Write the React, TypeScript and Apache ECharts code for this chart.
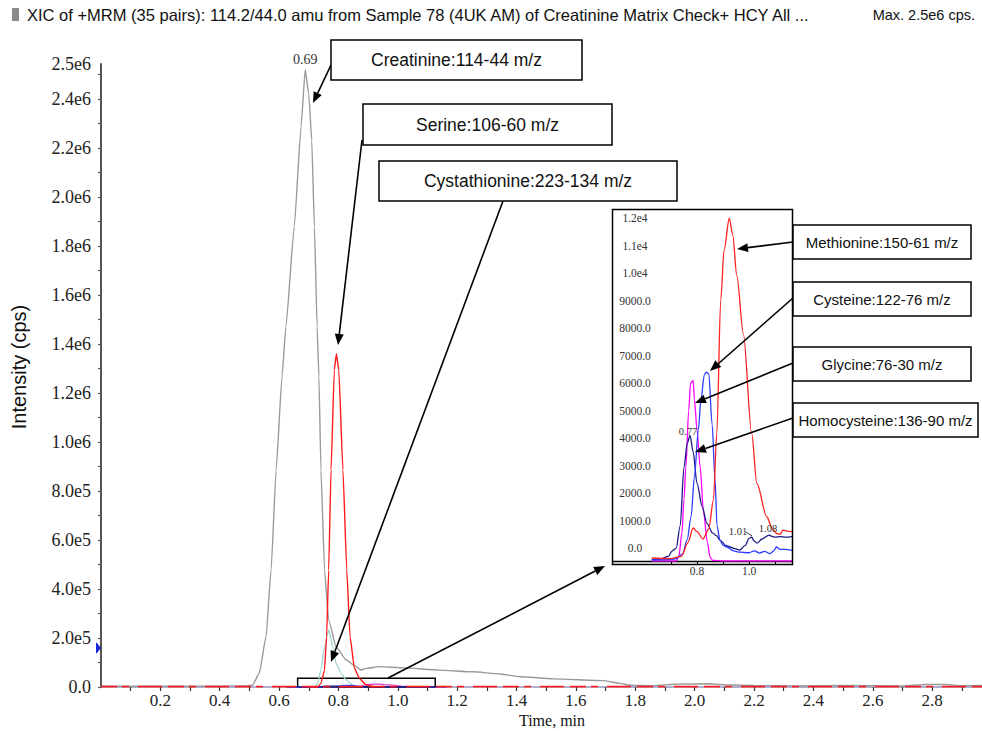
import React, { useEffect, useRef } from "react";
import * as echarts from "echarts";

// ---------- Main chromatogram (time in min, intensity in cps) ----------
const creatinineT = [0, 0.30, 0.49, 0.511, 0.533, 0.556, 0.573, 0.590, 0.610, 0.623, 0.651, 0.674, 0.688, 0.700, 0.710, 0.719, 0.728, 0.734, 0.741, 0.753, 0.767, 0.792, 0.826, 0.860, 0.876, 0.893, 0.938, 1.02, 1.14, 1.253, 1.343, 1.411, 1.523, 1.692, 1.748, 1.782, 1.85, 1.95, 2.05, 2.12, 2.2, 2.35, 2.5, 2.7, 2.78, 2.85, 2.9, 2.968];
const creatinineV = [3000, 3000, 4000, 8000, 56000, 205000, 478000, 886000, 1270000, 1471000, 1878000, 2287000, 2520000, 2420000, 2230000, 1878000, 1471000, 1270000, 886000, 478000, 273000, 164000, 110000, 83000, 69000, 76000, 83000, 78000, 69000, 62000, 53000, 42000, 33000, 26000, 15000, 7000, 5000, 12000, 13000, 8000, 6000, 4000, 6000, 4000, 10000, 10000, 5000, 6000];

const serineT = [0.70, 0.73, 0.741, 0.753, 0.760, 0.767, 0.775, 0.786, 0.793, 0.801, 0.815, 0.828, 0.839, 0.854, 0.871, 0.893, 0.92];
const serineV = [0, 0, 15000, 69000, 205000, 478000, 886000, 1294000, 1360000, 1294000, 886000, 478000, 205000, 76000, 35000, 8000, 0];

const cystaT = [0.70, 0.72, 0.730, 0.741, 0.753, 0.767, 0.781, 0.792, 0.809, 0.826, 0.848, 0.86];
const cystaV = [0, 0, 15000, 69000, 164000, 233000, 164000, 97000, 56000, 28000, 8000, 0];

const noiseT = [0, 2.968];
const noiseV = [1500, 1500];

const zoomT = [0.6625, 1.126];
const zoomV = [0, 35500];

const creatininePeakT = 0.688;
const creatininePeakV = 2520000;

// ---------- Inset (counts) ----------
const metT = [0.626, 0.70, 0.74, 0.765, 0.785, 0.80, 0.823, 0.845, 0.863, 0.876, 0.891, 0.904, 0.924, 0.937, 0.953, 0.978, 1.01, 1.03, 1.068, 1.09, 1.106, 1.12, 1.13, 1.145, 1.165];
const metV = [-360, -380, -300, 200, 730, 600, 330, 700, 1750, 4170, 9020, 10850, 12000, 11400, 9900, 7800, 4170, 2350, 1140, 700, 530, 500, 650, 620, 600];

const cysT = [0.626, 0.70, 0.72, 0.745, 0.762, 0.777, 0.79, 0.805, 0.815, 0.828, 0.835, 0.845, 0.858, 0.869, 0.877, 0.888, 0.90, 0.915, 0.94, 0.965, 1.0, 1.02, 1.04, 1.06, 1.08, 1.095, 1.105, 1.12, 1.14, 1.165];
const cysV = [-430, -420, -380, -200, 300, 1130, 2600, 4300, 5400, 6300, 6400, 6350, 4500, 2500, 800, 290, 100, 40, -100, -150, -170, -100, -180, -120, -200, -100, 40, -50, -50, -80];

const glyT = [0.626, 0.72, 0.73, 0.742, 0.75, 0.757, 0.768, 0.775, 0.785, 0.79, 0.80, 0.812, 0.825, 0.84, 0.85, 0.86, 0.9, 1.165];
const glyV = [-470, -470, -300, 550, 1800, 2950, 5000, 6000, 6100, 5400, 4300, 2950, 1300, 200, -330, -450, -470, -470];

const hcyT = [0.626, 0.66, 0.69, 0.705, 0.72, 0.735, 0.75, 0.762, 0.773, 0.785, 0.80, 0.82, 0.838, 0.86, 0.875, 0.888, 0.91, 0.927, 0.945, 0.965, 0.985, 1.0, 1.01, 1.02, 1.03, 1.05, 1.077, 1.09, 1.1, 1.12, 1.14, 1.165];
const hcyV = [-420, -400, -300, -100, 0, 800, 2950, 3800, 4100, 3500, 2350, 1500, 900, 550, 450, 290, 100, 40, -20, -70, 100, 350, 400, 250, 180, 330, 470, 420, 400, 420, 400, 420];

// ---------- Ticks ----------
const mainXTicks = [0.1, 0.2, 0.3, 0.4, 0.5, 0.6, 0.7, 0.8, 0.9, 1.0, 1.1, 1.2, 1.3, 1.4, 1.5, 1.6, 1.7, 1.8, 1.9, 2.0, 2.1, 2.2, 2.3, 2.4, 2.5, 2.6, 2.7, 2.8, 2.9];
const mainXLabels = [0.2, 0.4, 0.6, 0.8, 1.0, 1.2, 1.4, 1.6, 1.8, 2.0, 2.2, 2.4, 2.6, 2.8];
const mainYTicks = [0, 1e5, 2e5, 3e5, 4e5, 5e5, 6e5, 7e5, 8e5, 9e5, 1e6, 1.1e6, 1.2e6, 1.3e6, 1.4e6, 1.5e6, 1.6e6, 1.7e6, 1.8e6, 1.9e6, 2e6, 2.1e6, 2.2e6, 2.3e6, 2.4e6, 2.5e6];
const mainYLabels = [0, 2e5, 4e5, 6e5, 8e5, 1e6, 1.2e6, 1.4e6, 1.6e6, 1.8e6, 2e6, 2.2e6, 2.4e6, 2.543e6];
const mainYMax = 2.543e6;
const insetXTicks = [0.7, 0.8, 0.9, 1.0, 1.1];
const insetXLabels = [0.8, 1.0];
const insetYLabels = [0, 1000, 2000, 3000, 4000, 5000, 6000, 7000, 8000, 9000, 10000, 11000, 12000];

const zip = (t: number[], v: number[]) => t.map((x, i) => [x, v[i]]);

const SERIF = "'Liberation Serif', 'Times New Roman', serif";
const SANS = "'Liberation Sans', Arial, sans-serif";

function arrow(x1: number, y1: number, x2: number, y2: number) {
  const head = 11, w = 4.5;
  const dx = x2 - x1, dy = y2 - y1;
  const len = Math.hypot(dx, dy);
  const ux = dx / len, uy = dy / len;
  const bx = x2 - ux * head, by = y2 - uy * head;
  const px = -uy, py = ux;
  return [
    { type: "line", z: 50, shape: { x1, y1, x2: bx, y2: by }, style: { stroke: "#000", lineWidth: 1.6 } },
    { type: "polygon", z: 50, shape: { points: [[x2, y2], [bx + px * w, by + py * w], [bx - px * w, by - py * w]] }, style: { fill: "#000" } },
  ];
}

function box(x: number, y: number, w: number, h: number, text: string, fs: number) {
  return [
    { type: "rect", z: 60, shape: { x, y, width: w, height: h }, style: { fill: "#fff", stroke: "#000", lineWidth: 1.5 } },
    {
      type: "text", z: 61, x: x + w / 2, y: y + h / 2,
      style: { text, fill: "#111", font: `${fs}px ${SANS}`, textAlign: "center", textVerticalAlign: "middle", align: "center", verticalAlign: "middle" },
    },
  ];
}

function label(x: number, y: number, text: string, font: string, fill = "#111", align = "left", rotation = 0) {
  return {
    type: "text", z: 70, x, y, rotation,
    style: { text, fill, font, textAlign: align, textVerticalAlign: "middle", align, verticalAlign: "middle" },
  };
}

export default function App() {
  const ref = useRef<HTMLDivElement>(null);

  useEffect(() => {
    document.body.style.margin = "0";
    const chart = echarts.init(ref.current!, null, { renderer: "svg" });

    const lineBase = (name: string, data: number[][], color: string, xi: number, width = 1.3, z = 2, smooth = 0) => ({
      name, type: "line", xAxisIndex: xi, yAxisIndex: xi, data, showSymbol: false, symbol: "none",
      smooth, smoothMonotone: "x",
      lineStyle: { color, width }, itemStyle: { color }, z, silent: true,
    });

    const graphic: any[] = [
      { type: "rect", shape: { x: 12, y: 8, width: 7, height: 13 }, style: { fill: "#8a8a8a" } },
      label(27, 15, "XIC of +MRM (35 pairs): 114.2/44.0 amu from Sample 78 (4UK AM) of Creatinine Matrix Check+ HCY All ...", `16.5px ${SANS}`),
      label(975, 15, "Max. 2.5e6 cps.", `14.5px ${SANS}`, "#111", "right"),
      label(19, 367, "Intensity (cps)", `20px ${SANS}`, "#111", "center", Math.PI / 2),
      label(552, 720, "Time, min", `16px ${SERIF}`, "#111", "center"),
      { type: "polygon", z: 40, shape: { points: [[96, 642], [101, 648], [96, 654]] }, style: { fill: "#1428d8" } },
      // inset frame
      { type: "rect", z: 30, shape: { x: 612.5, y: 209.5, width: 180, height: 355 }, style: { fill: "none", stroke: "#000", lineWidth: 1.5 } },
      label(688, 431, "0.77", `10.5px ${SERIF}`, "#333", "center"),
      label(738, 531, "1.01", `10.5px ${SERIF}`, "#333", "center"),
      label(768, 528, "1.08", `10.5px ${SERIF}`, "#333", "center"),
      { type: "line", z: 70, shape: { x1: 746, y1: 532, x2: 752, y2: 536 }, style: { stroke: "#333", lineWidth: 1 } },
      ...box(331, 40, 251, 40, "Creatinine:114-44 m/z", 17.5),
      ...box(363, 104, 249, 41, "Serine:106-60 m/z", 17.5),
      ...box(379, 161, 298, 40, "Cystathionine:223-134 m/z", 17.5),
      ...arrow(331, 65, 313, 103),
      ...arrow(362, 140, 338, 345),
      ...arrow(503, 201, 331, 662),
      ...arrow(388, 678, 605, 566),
      ...box(793, 225, 178, 34, "Methionine:150-61 m/z", 15),
      ...box(793, 282, 178, 34, "Cysteine:122-76 m/z", 15),
      ...box(793, 347, 178, 34, "Glycine:76-30 m/z", 15),
      ...box(793, 403, 185, 34, "Homocysteine:136-90 m/z", 15),
      ...arrow(793, 242, 737, 249),
      ...arrow(793, 298, 710, 371),
      ...arrow(793, 363, 695, 403),
      ...arrow(793, 418, 695, 452),
    ];

    const fmtMainY = (v: number) => {
      if (v === 0) return "0.0";
      if (v >= 1e6) return (v / 1e6).toFixed(1) + "e6";
      return (v / 1e5).toFixed(1) + "e5";
    };

    chart.setOption({
      animation: false,
      backgroundColor: "#fff",
      grid: [
        { left: 101, right: 0, top: 64, bottom: 44 },
        { left: 613, top: 210, width: 179, height: 351 },
      ],
      xAxis: [
        {
          type: "value", gridIndex: 0, min: 0, max: 2.968,
          axisLine: { show: true, onZero: false, lineStyle: { color: "#9a92bd", width: 1.5 } },
          axisTick: { show: true, customValues: mainXTicks, length: 4, lineStyle: { color: "#333", width: 1.2 } },
          axisLabel: { customValues: mainXLabels, formatter: (v: number) => v.toFixed(1), fontFamily: SERIF, fontSize: 17, color: "#222", margin: 5 },
          splitLine: { show: false },
        },
        {
          type: "value", gridIndex: 1, min: 0.477, max: 1.165,
          axisLine: { show: true, onZero: false, lineStyle: { color: "#000", width: 1.3 } },
          axisTick: { show: true, customValues: insetXTicks, length: 3, lineStyle: { color: "#000" } },
          axisLabel: { customValues: insetXLabels, formatter: (v: number) => v.toFixed(1), fontFamily: SERIF, fontSize: 11.5, color: "#333", margin: 4 },
          splitLine: { show: false },
        },
      ],
      yAxis: [
        {
          type: "value", gridIndex: 0, min: 0, max: mainYMax,
          axisLine: { show: true, onZero: false, lineStyle: { color: "#555", width: 2 } },
          axisTick: { show: true, customValues: mainYTicks, length: 3, lineStyle: { color: "#555", width: 1.2 } },
          axisLabel: { customValues: mainYLabels, formatter: fmtMainY, fontFamily: SERIF, fontSize: 18, color: "#222", margin: 10 },
          splitLine: { show: false },
        },
        {
          type: "value", gridIndex: 1, min: -470, max: 12300,
          axisLine: { show: false, onZero: false }, axisTick: { show: false }, splitLine: { show: false },
          axisLabel: {
            customValues: insetYLabels, inside: true, align: "center", margin: 22,
            formatter: (v: number) => (v >= 10000 ? (v / 1e4).toFixed(1) + "e4" : v.toFixed(1)),
            fontFamily: SERIF, fontSize: 11.5, color: "#333",
          },
        },
      ],
      series: [
        lineBase("Creatinine", zip(creatinineT, creatinineV), "#9a9a9a", 0, 1.4, 2, 0.15),
        {
          ...lineBase("Creatinine peak", [[creatininePeakT, creatininePeakV]], "#9a9a9a", 0, 0, 1),
          lineStyle: { width: 0 },
          markPoint: {
            symbol: "circle", symbolSize: 1, itemStyle: { color: "rgba(0,0,0,0)" },
            label: { show: true, position: "top", distance: 3, formatter: "0.69", color: "#333", fontFamily: SERIF, fontSize: 14 },
            data: [{ coord: [creatininePeakT, creatininePeakV] }],
          },
        },
        lineBase("Cystathionine", zip(cystaT, cystaV), "#9ed6d2", 0, 1.3, 3, 0.15),
        lineBase("Methionine (main)", zip(metT, metV), "#d23cd2", 0, 1.2, 3),
        lineBase("Cysteine (main)", zip(cysT, cysV), "#2040ff", 0, 1.2, 3),
        lineBase("Homocysteine (main)", zip(hcyT, hcyV), "#1a1a80", 0, 1.2, 3),
        {
          ...lineBase("Baseline", zip(noiseT, noiseV), "#ff1a1a", 0, 1.6, 4),
          lineStyle: { color: "#ff1a1a", width: 1.6, type: [16, 5, 7, 9, 24, 6] },
          markArea: {
            silent: true,
            itemStyle: { color: "rgba(0,0,0,0)", borderColor: "#000", borderWidth: 1.5 },
            data: [[{ coord: [zoomT[0], zoomV[0]] }, { coord: [zoomT[1], zoomV[1]] }]],
          },
        },
        lineBase("Serine", zip(serineT, serineV), "#ff1a1a", 0, 1.4, 5, 0.15),
        // inset
        lineBase("Glycine", zip(glyT, glyV), "#ff00ff", 1, 1.3, 3, 0.3),
        lineBase("Homocysteine", zip(hcyT, hcyV), "#1c1c86", 1, 1.3, 4, 0.3),
        lineBase("Cysteine", zip(cysT, cysV), "#2a3cff", 1, 1.3, 5, 0.3),
        lineBase("Methionine", zip(metT, metV), "#ff2020", 1, 1.3, 6, 0.3),
      ],
      graphic,
    });

    return () => chart.dispose();
  }, []);

  return <div ref={ref} style={{ width: 982, height: 731 }} />;
}
